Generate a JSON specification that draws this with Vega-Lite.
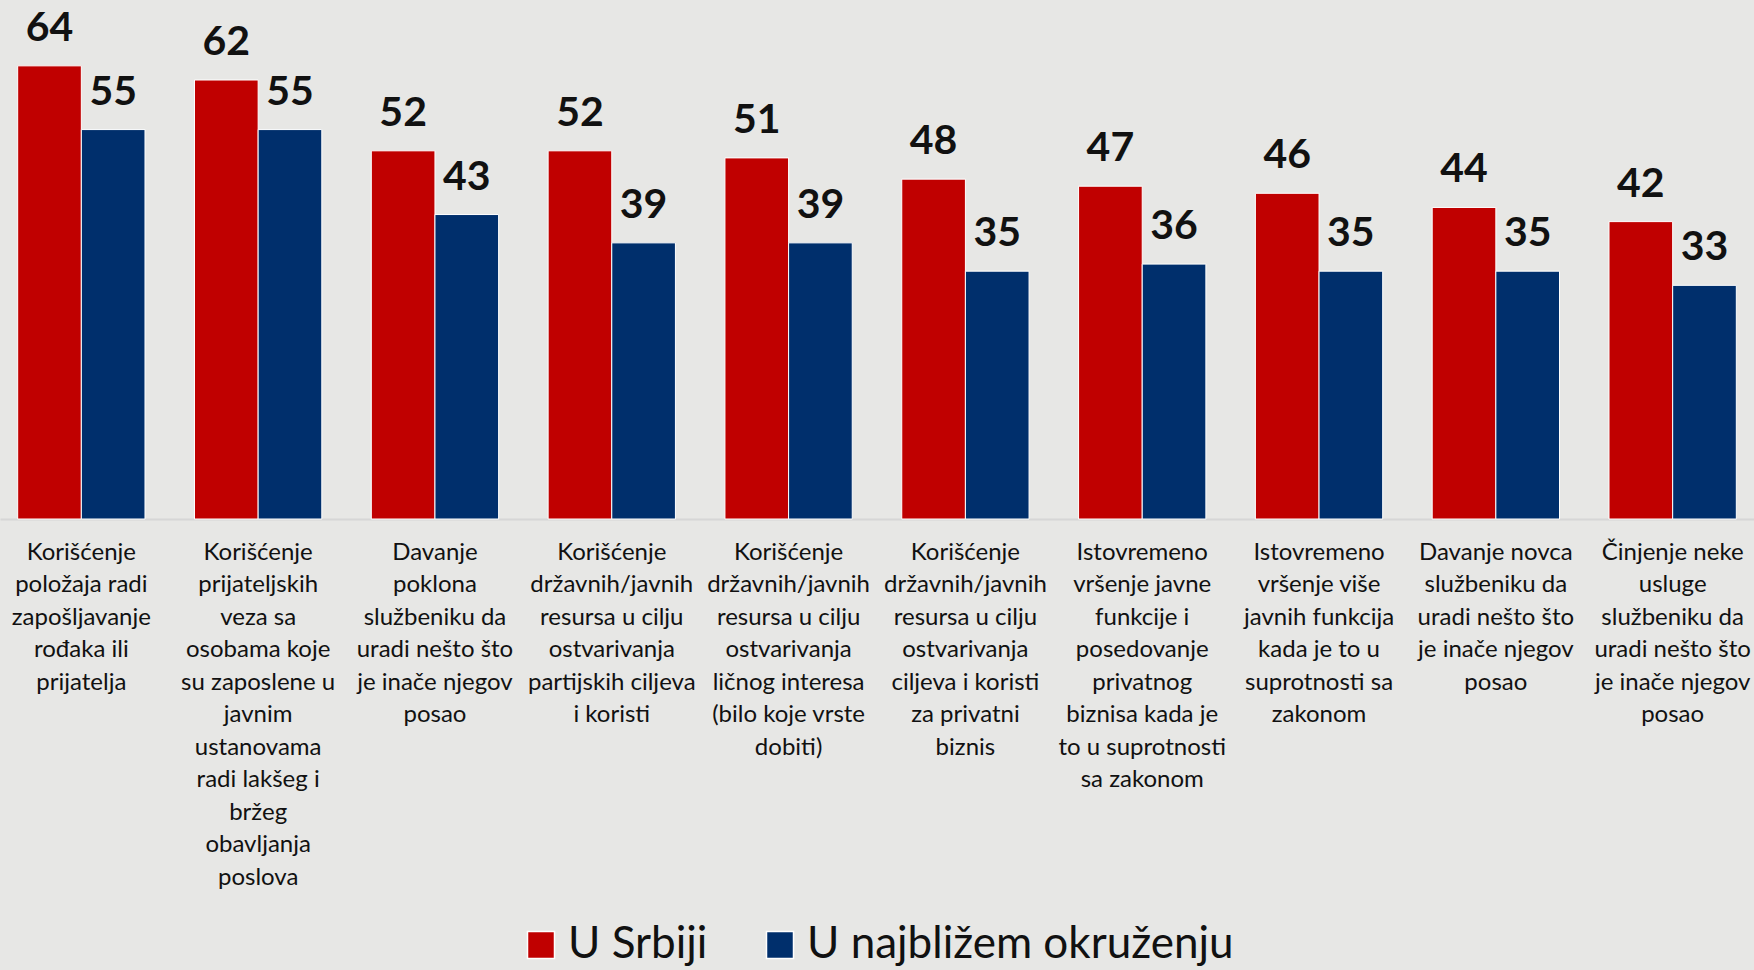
{
  "$schema": "https://vega.github.io/schema/vega-lite/v6.json",
  "width": 1754,
  "height": 519,
  "autosize": {"type": "none"},
  "padding": {"top": 0, "left": 0, "right": 0, "bottom": 451},
  "background": "#E7E7E5",
  "config": {"view": {"stroke": null}, "font": "Lato"},
  "data": {
    "values": [
      {"cat": "Korišćenje|položaja radi|zapošljavanje|rođaka ili|prijatelja", "series": "U Srbiji", "value": 64},
      {"cat": "Korišćenje|položaja radi|zapošljavanje|rođaka ili|prijatelja", "series": "U najbližem okruženju", "value": 55},
      {"cat": "Korišćenje|prijateljskih|veza sa|osobama koje|su zaposlene u|javnim|ustanovama|radi lakšeg i|bržeg|obavljanja|poslova", "series": "U Srbiji", "value": 62},
      {"cat": "Korišćenje|prijateljskih|veza sa|osobama koje|su zaposlene u|javnim|ustanovama|radi lakšeg i|bržeg|obavljanja|poslova", "series": "U najbližem okruženju", "value": 55},
      {"cat": "Davanje|poklona|službeniku da|uradi nešto što|je inače njegov|posao", "series": "U Srbiji", "value": 52},
      {"cat": "Davanje|poklona|službeniku da|uradi nešto što|je inače njegov|posao", "series": "U najbližem okruženju", "value": 43},
      {"cat": "Korišćenje|državnih/javnih|resursa u cilju|ostvarivanja|partijskih ciljeva|i koristi", "series": "U Srbiji", "value": 52},
      {"cat": "Korišćenje|državnih/javnih|resursa u cilju|ostvarivanja|partijskih ciljeva|i koristi", "series": "U najbližem okruženju", "value": 39},
      {"cat": "Korišćenje|državnih/javnih|resursa u cilju|ostvarivanja|ličnog interesa|(bilo koje vrste|dobiti)", "series": "U Srbiji", "value": 51},
      {"cat": "Korišćenje|državnih/javnih|resursa u cilju|ostvarivanja|ličnog interesa|(bilo koje vrste|dobiti)", "series": "U najbližem okruženju", "value": 39},
      {"cat": "Korišćenje|državnih/javnih|resursa u cilju|ostvarivanja|ciljeva i koristi|za privatni|biznis", "series": "U Srbiji", "value": 48},
      {"cat": "Korišćenje|državnih/javnih|resursa u cilju|ostvarivanja|ciljeva i koristi|za privatni|biznis", "series": "U najbližem okruženju", "value": 35},
      {"cat": "Istovremeno|vršenje javne|funkcije i|posedovanje|privatnog|biznisa kada je|to u suprotnosti|sa zakonom", "series": "U Srbiji", "value": 47},
      {"cat": "Istovremeno|vršenje javne|funkcije i|posedovanje|privatnog|biznisa kada je|to u suprotnosti|sa zakonom", "series": "U najbližem okruženju", "value": 36},
      {"cat": "Istovremeno|vršenje više|javnih funkcija|kada je to u|suprotnosti sa|zakonom", "series": "U Srbiji", "value": 46},
      {"cat": "Istovremeno|vršenje više|javnih funkcija|kada je to u|suprotnosti sa|zakonom", "series": "U najbližem okruženju", "value": 35},
      {"cat": "Davanje novca|službeniku da|uradi nešto što|je inače njegov|posao", "series": "U Srbiji", "value": 44},
      {"cat": "Davanje novca|službeniku da|uradi nešto što|je inače njegov|posao", "series": "U najbližem okruženju", "value": 35},
      {"cat": "Činjenje neke|usluge|službeniku da|uradi nešto što|je inače njegov|posao", "series": "U Srbiji", "value": 42},
      {"cat": "Činjenje neke|usluge|službeniku da|uradi nešto što|je inače njegov|posao", "series": "U najbližem okruženju", "value": 33}
    ]
  },
  "encoding": {
    "x": {
      "field": "cat",
      "type": "nominal",
      "sort": null,
      "scale": {"paddingInner": 0.28, "paddingOuter": 0.1},
      "axis": {
        "title": null,
        "labelAngle": 0,
        "labelExpr": "split(datum.label, '|')",
        "labelFont": "Lato",
        "labelFontSize": 24,
        "labelColor": "#111111",
        "labelLineHeight": 32.5,
        "labelPadding": 21,
        "labelLimit": 0,
        "labelBaseline": "top",
        "ticks": false,
        "domainColor": "#D6D6D6",
        "domainWidth": 2,
        "grid": false
      }
    },
    "xOffset": {
      "field": "series",
      "type": "nominal",
      "sort": ["U Srbiji", "U najbližem okruženju"],
      "scale": {"paddingInner": 0, "paddingOuter": 0}
    },
    "y": {
      "field": "value",
      "type": "quantitative",
      "scale": {"domain": [0, 73.3], "nice": false},
      "axis": null
    }
  },
  "layer": [
    {
      "mark": {"type": "bar", "stroke": "white", "strokeWidth": 1},
      "encoding": {
        "color": {
          "field": "series",
          "type": "nominal",
          "sort": ["U Srbiji", "U najbližem okruženju"],
          "scale": {"domain": ["U Srbiji", "U najbližem okruženju"], "range": ["#C00000", "#002F6C"]},
          "legend": {
            "title": null,
            "orient": "none",
            "legendX": 519,
            "legendY": 923,
            "direction": "horizontal",
            "symbolType": "square",
            "symbolSize": 729,
            "symbolStrokeColor": "white",
            "symbolStrokeWidth": 1.5,
            "symbolOpacity": 1,
            "labelFont": "Lato",
            "labelFontSize": 44,
            "labelColor": "#111111",
            "labelOffset": 5,
            "columnPadding": 50,
            "labelLimit": 0
          }
        }
      }
    },
    {
      "mark": {"type": "text", "font": "Lato", "fontWeight": "bold", "fontSize": 41, "baseline": "alphabetic", "dy": -25, "color": "#111111"},
      "encoding": {
        "text": {"field": "value", "type": "quantitative"}
      }
    }
  ]
}
